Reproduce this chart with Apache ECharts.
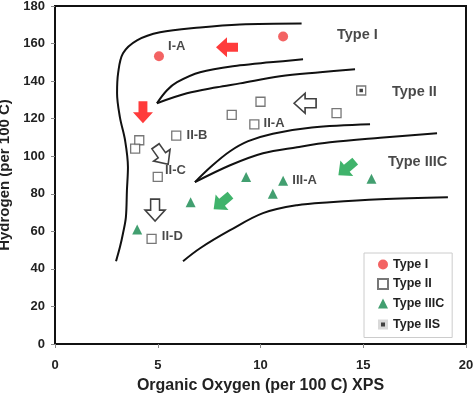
<!DOCTYPE html>
<html>
<head>
<meta charset="utf-8">
<script src="https://cdn.jsdelivr.net/npm/echarts@6/dist/echarts.min.js"></script>
<style>
  html, body { margin: 0; padding: 0; background: #fff; }
  #main { width: 474px; height: 398px; }
</style>
</head>
<body>
<div id="main"></div>
<script>
// measured points (O per 100 C, H per 100 C)
var typeI = [[5.06, 153.2], [11.1, 163.8]];
var typeII = [[4.1, 108.5], [3.9, 104], [5.9, 111], [5.0, 89], [8.6, 122],
              [10.0, 129], [9.7, 117], [13.7, 123], [14.9, 135], [4.7, 56]];
var typeIIIC = [[4.0, 61], [6.6, 75.5], [9.3, 89], [11.1, 87], [10.6, 80], [15.4, 88]];
var typeIIS = [[14.9, 135]];

// boundary curves
var outerCurve = [[12.0, 170.7], [9.0, 170.2], [7.06, 168.6], [5.11, 166], [3.99, 161.7],
                  [3.31, 154.8], [3.07, 144.1], [3.02, 133.5], [3.16, 120.7], [3.41, 108.5],
                  [3.55, 94.1], [3.5, 81.9], [3.45, 67.6], [3.31, 59], [3.16, 51.6], [2.97, 44.1]];
var curveI_upper = [[4.96, 128.2], [5.45, 135.1], [5.94, 139.4], [7.06, 144.7], [9.0, 148.4],
                    [10.46, 150], [12.07, 151.6]];
var curveI_lower = [[4.96, 128.2], [6.42, 133.5], [7.88, 136.7], [9.0, 138.8], [10.95, 142.6],
                    [12.9, 144.7], [14.6, 146.3]];
var curveII_upper = [[6.81, 86.2], [7.6, 94.5], [8.5, 102.5], [9.4, 108], [10.6, 112],
                     [12.5, 115.3], [15.33, 117]];
var curveII_lower = [[6.81, 86.2], [8.52, 95.2], [10.12, 101.6], [11.78, 104.8], [13.38, 107.4],
                     [15.82, 109.8], [18.59, 112.2]];
var curveBottom = [[6.23, 44.1], [7.06, 51], [8.52, 60.6], [10.12, 69.7], [11.78, 73.9],
                   [13.38, 75.5], [15.82, 77.1], [19.12, 78.2]];

// arrows: x, y, rotation (deg, counterclockwise from pointing right)
var redArrows = [[8.37, 158, 180], [4.28, 123.4, -90]];
var openArrows = [[12.17, 128.2, 180], [5.2, 100.5, -55], [4.87, 71.3, -90]];
var greenArrows = [[8.13, 75.5, -140], [14.2, 93.6, -140]];

// text labels
var subLabels = [['I-A', 5.5, 158.5], ['II-B', 6.4, 111], ['II-C', 5.35, 92.5], ['II-D', 5.2, 57.4],
                 ['II-A', 10.15, 117.6], ['III-A', 11.55, 87.2]];
var typeLabels = [['Type I', 13.72, 164.4], ['Type II', 16.4, 134], ['Type IIIC', 16.2, 96.8]];

var FONT = 'Liberation Sans';
var arrowPath = 'path://M0,5 L9,5 L9,0 L18,9 L9,18 L9,13 L0,13 Z';

var myChart = echarts.init(document.getElementById('main'));

function curve(d) {
  return {
    type: 'line', data: d, smooth: 0.35, showSymbol: false, silent: true,
    lineStyle: { color: '#111', width: 2 }, z: 1
  };
}
function arrows(d, fill, stroke) {
  return {
    type: 'scatter', silent: true, z: 3,
    symbol: arrowPath, symbolSize: [22, 20],
    data: d.map(function (a) { return { value: [a[0], a[1]], symbolRotate: a[2] }; }),
    itemStyle: { color: fill, borderColor: stroke, borderWidth: stroke ? 1.6 : 0 }
  };
}
function labels(d, size) {
  return {
    type: 'scatter', silent: true, symbolSize: 0, z: 4,
    data: d.map(function (l) { return { name: l[0], value: [l[1], l[2]] }; }),
    label: {
      show: true, position: 'right', distance: 0, formatter: '{b}',
      fontFamily: FONT, fontWeight: 'bold', fontSize: size, color: '#1a1a1a'
    }
  };
}

var option = {
  animation: false,
  grid: {
    left: 55, right: 8, top: 6, bottom: 54, outerBoundsMode: 'none', containLabel: false,
    show: true, borderColor: '#111', borderWidth: 2
  },
  xAxis: {
    type: 'value', min: 0, max: 20, interval: 5,
    name: 'Organic Oxygen (per 100 C) XPS', nameLocation: 'middle', nameGap: 34,
    nameTextStyle: { fontFamily: FONT, fontWeight: 'bold', fontSize: 16, color: '#222' },
    axisLine: { lineStyle: { color: '#111', width: 2 } },
    axisTick: { show: true, length: 4, lineStyle: { color: '#888' } },
    axisLabel: { margin: 15, fontFamily: FONT, fontWeight: 'bold', fontSize: 13, color: '#222' },
    splitLine: { show: false }
  },
  yAxis: {
    type: 'value', min: 0, max: 180, interval: 20,
    name: 'Hydrogen (per 100 C)', nameLocation: 'middle', nameGap: 37,
    nameTextStyle: { fontFamily: FONT, fontWeight: 'bold', fontSize: 15, color: '#222' },
    axisLine: { show: true, lineStyle: { color: '#111', width: 2 } },
    axisTick: { show: true, length: 4, lineStyle: { color: '#888' } },
    axisLabel: { margin: 10, fontFamily: FONT, fontWeight: 'bold', fontSize: 13, color: '#222' },
    splitLine: { show: false }
  },
  legend: {
    orient: 'vertical', left: 364, top: 253,
    padding: [5, 8, 5, 11], itemGap: 6.5, itemWidth: 10, itemHeight: 10,
    backgroundColor: '#fff', borderColor: '#ccc', borderWidth: 1,
    textStyle: { fontFamily: FONT, fontWeight: 'bold', fontSize: 12.5, color: '#222' },
    data: [
      { name: 'Type I' },
      { name: 'Type II' },
      { name: 'Type IIIC' },
      { name: 'Type IIS', itemStyle: { color: '#111', borderColor: '#fff', borderWidth: 6 } }
    ]
  },
  series: [
    curve(outerCurve), curve(curveI_upper), curve(curveI_lower),
    curve(curveII_upper), curve(curveII_lower), curve(curveBottom),
    {
      name: 'Type I', type: 'scatter', data: typeI, symbol: 'circle', symbolSize: 10, z: 5,
      itemStyle: { color: '#f03c3c' }
    },
    {
      name: 'Type II', type: 'scatter', data: typeII, symbol: 'rect', symbolSize: 9, z: 5,
      itemStyle: { color: '#fff', borderColor: '#555', borderWidth: 1.3 }
    },
    {
      name: 'Type IIIC', type: 'scatter', data: typeIIIC, symbol: 'triangle', symbolSize: 10, z: 5,
      itemStyle: { color: '#13874c' }
    },
    {
      name: 'Type IIS', type: 'scatter', data: typeIIS, symbol: 'rect', symbolSize: 3.5, z: 6,
      itemStyle: { color: '#111' }
    },
    arrows(redArrows, '#ff0a0a', null),
    arrows(openArrows, '#fff', '#111'),
    arrows(greenArrows, '#10a046', null),
    labels(subLabels, 13),
    labels(typeLabels, 14.5)
  ]
};

option && myChart.setOption(option);
</script>
</body>
</html>
